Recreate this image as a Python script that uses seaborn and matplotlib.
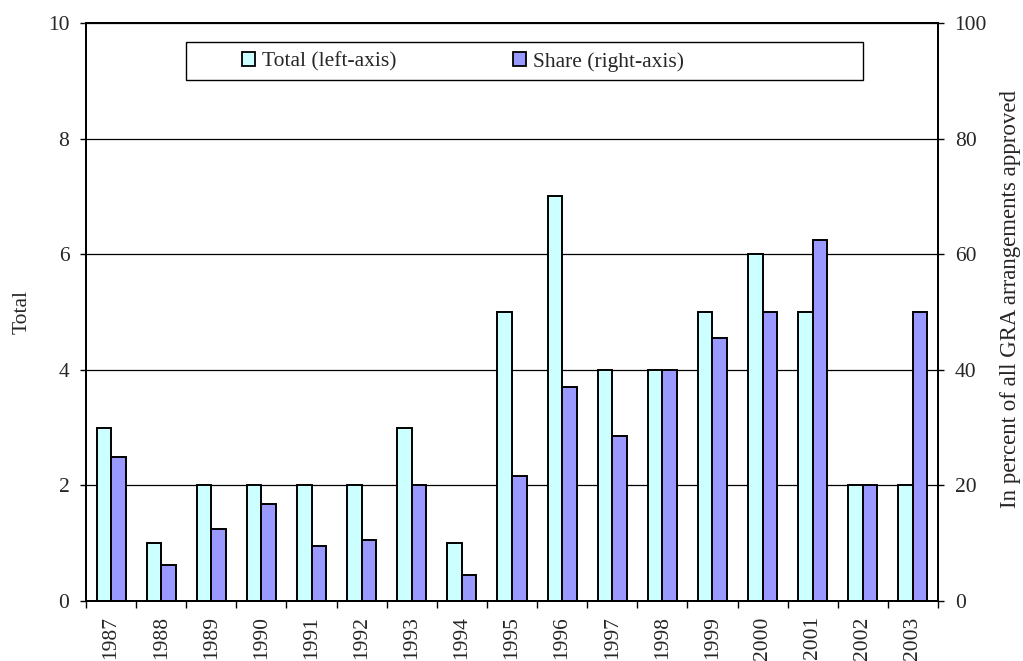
import matplotlib
matplotlib.use("Agg")
import matplotlib.pyplot as plt
from matplotlib.patches import Patch, Rectangle
from matplotlib.ticker import FixedLocator, NullFormatter
import numpy as np
import pandas as pd
import seaborn as sns

years = ["1987", "1988", "1989", "1990", "1991", "1992", "1993", "1994", "1995",
         "1996", "1997", "1998", "1999", "2000", "2001", "2002", "2003"]
total = [3, 1, 2, 2, 2, 2, 3, 1, 5, 7, 4, 4, 5, 6, 5, 2, 2]
share = [25.0, 6.25, 12.5, 16.7, 9.5, 10.5, 20.0, 4.5, 21.6, 37.0, 28.6, 40.0,
         45.5, 50.0, 62.5, 20.0, 50.0]

lab_total = "Total (left-axis)"
lab_share = "Share (right-axis)"
hue_order = [lab_total, lab_share]
colors = {lab_total: "#CCFFFF", lab_share: "#9999FF"}

df_total = pd.DataFrame({"year": years, "value": total, "series": lab_total})
df_share = pd.DataFrame({"year": years, "value": share, "series": lab_share})

sns.set_style("white")
plt.rcParams["font.family"] = ["Liberation Serif", "DejaVu Serif"]
FS = 15.5

W, H = 1023, 661
fig = plt.figure(figsize=(W / 100, H / 100), dpi=100)
ax1 = fig.add_axes([86 / W, 1 - 601 / H, (938 - 86) / W, (601 - 23) / H])
ax2 = ax1.twinx()

bar_kw = dict(x="year", y="value", hue="series", hue_order=hue_order,
              palette=colors, saturation=1, width=0.58, dodge=True, order=years,
              edgecolor="black", linewidth=1.4, legend=False)
sns.barplot(data=df_total, ax=ax1, **bar_kw)
sns.barplot(data=df_share, ax=ax2, **bar_kw)

n = len(years)
for ax in (ax1, ax2):
    ax.set_xlim(-0.5, n - 0.5)
    ax.set_xlabel("")

ax1.set_ylim(0, 10)
ax1.set_yticks([0, 2, 4, 6, 8, 10])
ax2.set_ylim(0, 100)
ax2.set_yticks([0, 20, 40, 60, 80, 100])

# horizontal gridlines behind the bars
ax1.set_axisbelow(True)
ax1.yaxis.grid(True, color="black", linewidth=0.9)
ax1.xaxis.grid(False)
ax2.grid(False)

# year labels centred, tick marks on the category boundaries
ax1.set_xticks(range(n))
ax1.set_xticklabels(years, rotation=90, fontsize=FS)
ax1.tick_params(axis="x", which="major", length=0, pad=11)
ax1.xaxis.set_minor_locator(FixedLocator(np.arange(-0.5, n, 1.0)))
ax1.xaxis.set_minor_formatter(NullFormatter())
ax1.tick_params(axis="x", which="minor", bottom=True, length=5, width=1,
                color="black", direction="out")

ax1.tick_params(axis="y", left=True, length=4, width=1, color="black",
                direction="out", labelsize=FS, pad=8)
ax2.tick_params(axis="y", right=True, length=4, width=1, color="black",
                direction="out", labelsize=FS, pad=8)
ax2.tick_params(axis="x", bottom=False, labelbottom=False)

for ax in (ax1, ax2):
    for sp in ax.spines.values():
        sp.set_visible(True)
        sp.set_color("black")
        sp.set_linewidth(1.3)

ax1.set_ylabel("Total", fontsize=FS, labelpad=12)
ax2.set_ylabel("In percent of all GRA arrangements approved", fontsize=16.5,
               labelpad=9)
ax2.yaxis.label.set_y(0.522)

# legend box spanning the upper part of the plot, entries placed inside it
fig.add_artist(Rectangle((186 / W, 1 - 80 / H), (863 - 186) / W, (80 - 42) / H,
                         transform=fig.transFigure, fill=False,
                         edgecolor="black", linewidth=1.0, zorder=5))
entry_x = {lab_total: 242, lab_share: 513}
for lab in hue_order:
    handle = Patch(facecolor=colors[lab], edgecolor="black", linewidth=1.3,
                   label=lab)
    fig.legend(handles=[handle], loc="center left",
               bbox_to_anchor=(entry_x[lab] / W, 1 - 62 / H),
               frameon=False, fontsize=FS, borderaxespad=0, borderpad=0,
               handlelength=0.62, handleheight=0.62, handletextpad=0.3)

fig.savefig("out.png", dpi=100)
